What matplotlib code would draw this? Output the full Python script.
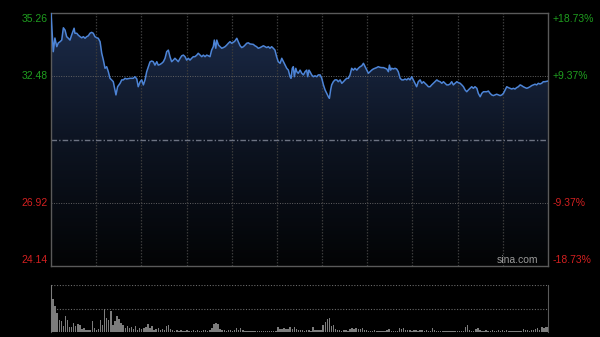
import numpy as np
import matplotlib
matplotlib.use("Agg")
import matplotlib.pyplot as plt
from matplotlib.colors import LinearSegmentedColormap

# ---------------- data ----------------
prev_close = 29.70
price_ticks = [35.26, 32.48, 29.70, 26.92, 24.14]
left_labels = ["35.26", "32.48", "", "26.92", "24.14"]
right_labels = ["+18.73%", "+9.37%", "", "-9.37%", "-18.73%"]

minutes = [
    0, 1.1, 1.9, 2.8, 3.5, 4.4, 5.2, 6.0, 6.8, 7.6,
    8.4, 9.2, 10.0, 11.2, 11.6, 12.5, 13.2, 14.1, 14.9, 15.7,
    16.5, 17.3, 18.1, 18.9, 19.7, 20.5, 21.3, 22.2, 22.9, 23.8,
    24.6, 25.4, 26.2, 27.0, 27.8, 28.6, 29.4, 30.2, 31.0, 31.5,
    32.3, 33.5, 34.3, 35.1, 35.9, 36.7, 38.3, 39.9, 40.7, 41.6,
    42.3, 43.2, 44.0, 44.8, 45.6, 46.4, 47.2, 48.0, 48.8, 49.6,
    50.4, 51.3, 52.0, 52.9, 53.7, 54.5, 55.3, 56.1, 56.9, 57.7,
    58.5, 59.3, 60.1, 61.0, 61.7, 62.6, 63.4, 64.2, 65.0, 65.8,
    66.6, 67.4, 68.2, 69.0, 69.8, 70.7, 71.4, 72.3, 73.1, 73.9,
    74.7, 75.5, 76.3, 77.1, 77.9, 78.7, 79.2, 79.9, 80.4, 81.2,
    82.0, 82.8, 83.6, 84.4, 85.2, 86.0, 86.8, 87.6, 88.4, 89.2,
    90.1, 90.8, 91.7, 92.5, 93.3, 94.1, 94.9, 95.7, 96.5, 98.1,
    98.9, 99.7, 100.5, 101.4, 102.2, 103.0, 103.8, 104.6, 105.4, 106.2,
    107.0, 107.8, 108.6, 109.4, 110.2, 111.1, 111.9, 112.7, 113.5, 114.3,
    115.1, 115.9, 116.4, 117.0, 117.5, 118.0, 118.7, 119.2, 119.9, 120.8,
    121.6, 122.4, 123.2, 124.0, 124.5, 125.1, 125.6, 126.4, 127.2, 128.0,
    128.9, 129.6, 130.5, 131.3, 132.1, 132.9, 133.7, 134.5, 135.0, 135.6,
    136.1, 136.9, 137.7, 138.6, 139.3, 140.2, 141.0, 141.8, 142.6, 143.4,
    144.2, 145.0, 145.8, 146.6, 147.4, 148.3, 149.0, 149.9, 150.7, 151.5,
    152.3, 153.1, 153.9, 154.7, 155.5, 156.3, 157.1, 157.9, 158.7, 159.6,
    160.4, 161.2, 162.0, 162.8, 163.6, 164.1, 164.7, 165.2, 166.0, 166.8,
    167.6, 168.4, 169.3, 170.1, 170.9, 171.7, 172.5, 173.3, 174.1, 174.9,
    175.7, 176.5, 177.3, 178.1, 179.0, 179.8, 180.6, 181.4, 182.2, 183.0,
    183.8, 184.6, 185.4, 186.2, 187.1, 187.8, 188.7, 189.5, 190.3, 191.1,
    191.9, 192.7, 193.5, 194.3, 195.1, 195.9, 196.8, 197.5, 198.4, 199.2,
    200.0, 200.8, 201.6, 202.4, 203.2, 204.0, 204.8, 205.6, 206.5, 207.2,
    208.1, 208.9, 209.7, 210.5, 211.3, 212.1, 212.9, 213.7, 214.5, 215.3,
    216.1, 216.9, 217.8, 218.6, 219.4, 220.2, 221.0, 221.8, 222.6, 223.4,
    224.2, 225.0, 225.8, 226.6, 227.5, 228.2, 229.0, 229.9, 230.7, 231.5,
    232.3, 233.1, 233.9, 234.7, 235.5, 236.3, 237.1, 237.9, 238.7, 239.5,
    241,
]

prices = [
    35.26, 33.56, 34.16, 33.78, 33.94, 34.00, 34.07, 34.61, 34.51, 34.22,
    34.15, 34.07, 34.29, 34.59, 34.37, 34.37, 34.29, 34.22, 34.17, 34.22,
    34.15, 34.22, 34.26, 34.37, 34.41, 34.37, 34.22, 34.17, 34.15, 34.00,
    33.49, 33.19, 32.83, 32.90, 32.68, 32.39, 32.32, 32.24, 31.88, 31.66,
    32.02, 32.17, 32.32, 32.32, 32.39, 32.36, 32.39, 32.39, 32.46, 32.36,
    32.02, 32.24, 32.32, 32.10, 32.32, 32.68, 32.90, 33.11, 33.15, 33.12,
    32.97, 33.12, 32.97, 33.00, 33.05, 33.12, 33.27, 33.56, 33.63, 33.34,
    33.12, 33.19, 33.27, 33.19, 33.12, 33.27, 33.38, 33.41, 33.34, 33.19,
    33.27, 33.19, 33.27, 33.34, 33.34, 33.41, 33.49, 33.41, 33.34, 33.41,
    33.34, 33.41, 33.38, 33.34, 33.63, 33.78, 34.07, 33.71, 34.07, 33.85,
    33.78, 33.71, 33.74, 33.78, 33.85, 33.93, 34.00, 33.93, 33.97, 34.03,
    34.15, 34.00, 33.82, 33.74, 33.78, 33.85, 33.93, 33.95, 33.90, 33.88,
    33.82, 33.78, 33.71, 33.74, 33.78, 33.82, 33.78, 33.74, 33.78, 33.71,
    33.78, 33.71, 33.63, 33.34, 33.12, 33.05, 33.27, 33.12, 32.97, 32.83,
    32.75, 32.46, 32.39, 32.83, 32.90, 32.46, 32.83, 32.68, 32.61, 32.75,
    32.61, 32.54, 32.68, 32.75, 32.46, 32.75, 32.68, 32.54, 32.46, 32.50,
    32.46, 32.54, 32.54, 32.39, 32.10, 31.88, 31.73, 31.58, 31.51, 31.88,
    32.10, 32.24, 32.32, 32.32, 32.24, 32.32, 32.17, 32.24, 32.32, 32.39,
    32.39, 32.54, 32.83, 32.75, 32.83, 32.75, 32.83, 32.90, 32.94, 33.05,
    32.90, 32.75, 32.61, 32.68, 32.75, 32.80, 32.83, 32.86, 32.90, 32.87,
    32.86, 32.86, 32.83, 32.80, 32.68, 32.97, 32.75, 32.83, 32.80, 32.83,
    32.80, 32.68, 32.39, 32.32, 32.32, 32.36, 32.32, 32.39, 32.32, 32.46,
    32.32, 32.17, 32.02, 32.24, 32.32, 32.17, 32.24, 32.17, 32.10, 32.02,
    32.02, 32.10, 32.17, 32.24, 32.32, 32.27, 32.24, 32.17, 32.24, 32.17,
    32.10, 32.10, 32.14, 32.24, 32.10, 32.17, 32.24, 32.20, 32.17, 32.10,
    32.02, 31.88, 31.80, 31.88, 31.95, 32.02, 31.95, 32.02, 31.95, 31.73,
    31.58, 31.73, 31.80, 31.80, 31.80, 31.83, 31.73, 31.66, 31.63, 31.66,
    31.69, 31.66, 31.63, 31.66, 31.73, 31.88, 32.02, 31.98, 31.95, 31.92,
    31.95, 31.92, 31.98, 32.02, 32.10, 32.07, 32.02, 31.98, 31.95, 31.98,
    32.02, 32.07, 32.10, 32.13, 32.10, 32.17, 32.14, 32.17, 32.24, 32.24,
    32.27,
]

volumes = [
    100, 70, 55, 40, 26, 24, 12, 35, 26, 11,
    10, 20, 12, 18, 15, 6, 8, 5, 4, 5,
    23, 8, 5, 7, 26, 15, 49, 30, 26, 44,
    15, 23, 35, 27, 19, 14, 8, 12, 8, 10,
    7, 12, 5, 8, 7, 8, 11, 18, 8, 13,
    5, 6, 8, 5, 6, 5, 12, 15, 6, 4,
    3, 4, 3, 4, 3, 3, 4, 3, 3, 4,
    3, 4, 3, 3, 4, 4, 3, 4, 8, 17,
    19, 18, 6, 4, 4, 3, 4, 4, 3, 4,
    8, 5, 8, 5, 3, 2, 3, 2, 3, 2,
    3, 2, 2, 3, 2, 3, 2, 3, 3, 2,
    10, 7, 6, 8, 7, 6, 10, 7, 10, 6,
    4, 5, 4, 3, 4, 5, 3, 11, 4, 4,
    4, 5, 14, 22, 27, 30, 12, 15, 6, 4,
    4, 3, 4, 4, 3, 7, 8, 6, 8, 7,
    6, 8, 5, 4, 3, 3, 3, 4, 3, 3,
    3, 3, 3, 4, 6, 3, 3, 3, 3, 8,
    6, 9, 5, 4, 4, 3, 4, 4, 3, 4,
    4, 3, 4, 3, 3, 8, 4, 3, 3, 3,
    3, 2, 3, 3, 2, 3, 3, 2, 3, 3,
    3, 10, 15, 4, 3, 3, 6, 9, 5, 3,
    3, 4, 3, 3, 5, 3, 3, 4, 3, 4,
    3, 5, 3, 3, 3, 2, 3, 3, 3, 6,
    5, 4, 3, 5, 4, 6, 8, 5, 10, 8,
    10, 11,
]
vol_minutes = list(range(len(volumes)))

# ---------------- style ----------------
W, H = 600, 337
fig = plt.figure(figsize=(W / 100, H / 100), dpi=100, facecolor="black")
FONT = ["Liberation Sans", "DejaVu Sans"]
GREEN = "#1f9e1f"
RED = "#d42020"
SPINE = "#5a5a5a"
GRID = "#3a3a3a"

ax = fig.add_axes([51 / W, 1 - 266 / H, 497 / W, 253 / H])
ax.set_facecolor("black")
ymin, ymax = price_ticks[-1], price_ticks[0]
ax.set_xlim(0, 241)
ax.set_ylim(ymin, ymax)

# gradient fill under the line
cmap = LinearSegmentedColormap.from_list("g", ["#030405", "#0d1422", "#1c2c4b"])
grad = np.linspace(0, 1, 256).reshape(-1, 1)
im = ax.imshow(grad, extent=[0, 241, ymin, ymax], origin="lower", aspect="auto",
               cmap=cmap, zorder=1)
poly = ax.fill_between(minutes, prices, ymin, color="none", lw=0)
path = poly.get_paths()[0]
im.set_clip_path(path, transform=ax.transData)

ax.plot(minutes, prices, color="#4d84d6", lw=1.1, zorder=4)

# grid lines
for i in range(1, 11):
    ax.axvline(241 * i / 11, color=GRID, lw=0.9, ls=(0, (1.2, 1.2)), zorder=2)
for v in (price_ticks[1], price_ticks[3]):
    ax.axhline(v, color="#626262", lw=0.7, ls=(0, (1, 1.5)), zorder=2)
ax.axhline(prev_close, color="#6d7382", lw=1.0, ls=(0, (4, 1.5, 1, 1.5)), zorder=2)

ax.set_xticks([])
ax.set_yticks([])
for s in ax.spines.values():
    s.set_color(SPINE)
    s.set_linewidth(1.0)

# labels
for v, lt, rt in zip(price_ticks, left_labels, right_labels):
    if not lt:
        continue
    col = GREEN if v > prev_close else RED
    frac = (v - ymin) / (ymax - ymin)
    va = "top" if frac > 0.99 else ("bottom" if frac < 0.01 else "center")
    off = -0.004 if va == "top" else (0.004 if va == "bottom" else 0)
    ax.text(-0.007, frac + off, lt, transform=ax.transAxes, ha="right", va=va,
            color=col, fontsize=7.5, family=FONT)
    ax.text(1.01, frac + off, rt, transform=ax.transAxes, ha="left", va=va,
            color=col, fontsize=7.5, family=FONT)

ax.text(0.98, 0.004, "sina.com", transform=ax.transAxes, ha="right", va="bottom",
        color="#9a9a9a", fontsize=7.5, family=FONT, zorder=5)

# volume panel
vax = fig.add_axes([51 / W, 1 - 332 / H, 497 / W, 47 / H])
vax.set_facecolor("black")
vax.bar(vol_minutes, volumes, width=0.7, color="#7c7c7c", lw=0, zorder=3)
vax.set_xlim(0, 241)
vax.set_ylim(0, max(volumes))
vax.axhline(max(volumes), color="#6a6a6a", lw=0.8, ls=(0, (1, 1.5)), zorder=2)
vax.axhline(max(volumes) / 2, color="#6a6a6a", lw=0.8, ls=(0, (1, 1.5)), zorder=2)
vax.set_xticks([])
vax.set_yticks([])
vax.spines["top"].set_visible(False)
vax.spines["bottom"].set_visible(False)
vax.spines["left"].set_color(SPINE)
vax.spines["right"].set_color(SPINE)

fig.savefig("out.png", dpi=100, facecolor="black")
